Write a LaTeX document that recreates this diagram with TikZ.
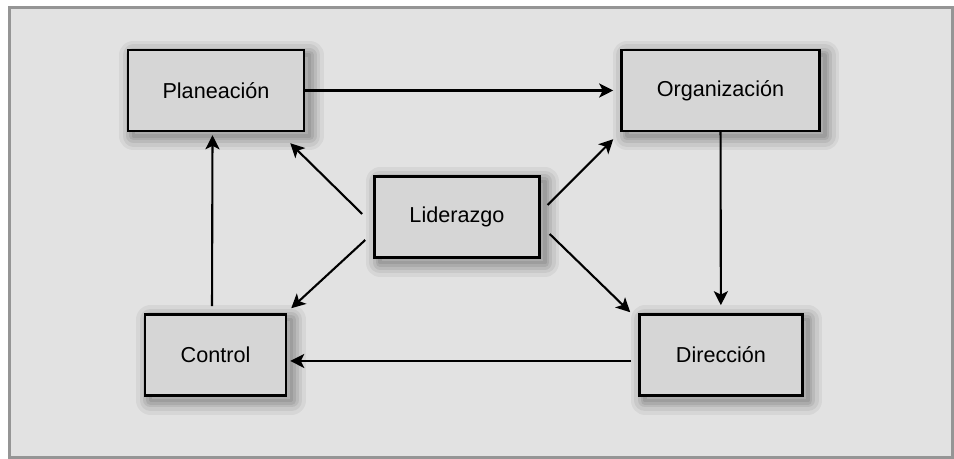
\documentclass[tikz,border=0pt]{standalone}
\usepackage{fontspec}
\setmainfont{Liberation Sans}
\usepackage{tikz}
\usetikzlibrary{%
  arrows.meta, calc, positioning
}
\usepackage{xcolor}
\definecolor{pgBack}{HTML}{E2E2E2}
\definecolor{pgBox}{HTML}{D6D6D6}
\definecolor{pgFrame}{HTML}{959595}
\tikzstyle{pbox} = [%
  rectangle,
  draw=black,
  line width=1.4pt,
  fill=pgBox,
  minimum height=1.62cm,
  align=center,
  text centered,
  inner sep=2pt,
  preaction={draw=black,draw opacity=0.05,line width=16pt,line join=round,transform canvas={shift={(0.11,-0.1)}}},
  preaction={draw=black,draw opacity=0.06,line width=12pt,line join=round,transform canvas={shift={(0.11,-0.1)}}},
  preaction={draw=black,draw opacity=0.07,line width=8pt,line join=round,transform canvas={shift={(0.11,-0.1)}}},
  preaction={draw=black,draw opacity=0.08,line width=5pt,line join=round,transform canvas={shift={(0.11,-0.1)}}},
  preaction={draw=black,draw opacity=0.08,line width=2pt,line join=round,transform canvas={shift={(0.11,-0.1)}}}
]

\begin{document}
\begin{tikzpicture}[%
  flow/.style={%
    -{Stealth[length=8pt,width=8pt,inset=2pt]},
    line width=1.2pt
  },
  every node/.style={%
    font=\fontsize{12.3}{14}\selectfont,
    text=black
  }
]

  % Frame
  \useasboundingbox (0,0) rectangle (19.08,9.18);
  \draw[pgFrame,fill=pgBack,line width=0.06cm] (0.196,0.03) rectangle (19.05,9.026);

  % Nodes
  \node[pbox,minimum width=3.52cm] (plan) at (4.32,7.37) {Planeación};
  \node[pbox,minimum width=3.96cm,right=6.3cm of plan] (org) {Organización};
  \node[pbox,minimum width=3.3cm,right=1.36cm of plan,yshift=-2.53cm] (lid) {Liderazgo};
  \node[pbox,minimum width=2.82cm,below=3.62cm of plan,xshift=-0.01cm] (ctrl) {Control};
  \node[pbox,minimum width=3.26cm,below=3.62cm of org,xshift=0.01cm] (dir) {Dirección};

  % Cycle edges
  \draw[flow,shorten >=0.14cm] (plan) -- (org);
  \draw[flow,shorten >=0.16cm] (org) -- (dir);
  \draw[flow,shorten <=0.14cm,shorten >=0.06cm] ([yshift=-0.12cm]dir.west) -- ([yshift=-0.12cm]ctrl.east);
  \draw[flow,shorten <=0.14cm,shorten >=0.06cm] ([xshift=-0.07cm]ctrl.north) -- ([xshift=-0.07cm]plan.south);

  % Leadership edges
  \draw[flow] ($(lid.west)+(-0.22,0.06)$) -- ($(plan.south east)+(-0.3,-0.22)$);
  \draw[flow] ($(lid.west)+(-0.16,-0.46)$) -- ($(ctrl.north east)+(0.08,0.1)$);
  \draw[flow] ($(lid.east)+(0.14,0.24)$) -- ($(org.south west)+(-0.14,-0.14)$);
  \draw[flow] ($(lid.east)+(0.18,-0.34)$) -- ($(dir.north west)+(-0.16,0.02)$);

\end{tikzpicture}
\end{document}
